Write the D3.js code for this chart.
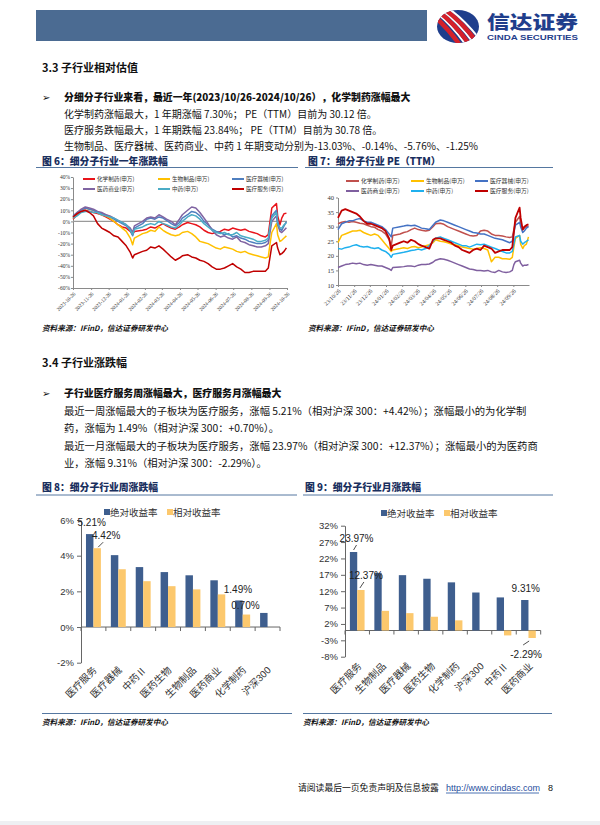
<!DOCTYPE html>
<html><head><meta charset="utf-8">
<script src="https://cdn.jsdelivr.net/npm/d3@7"></script>
<style>body{margin:0;background:#fff}svg{display:block}</style>
</head><body>
<svg id="page" width="600" height="825"></svg>
<script>
// ---------------- DATA ----------------
const dates = ['2023-10-26','2023-11-02','2023-11-09','2023-11-16','2023-11-23','2023-11-30','2023-12-07','2023-12-14','2023-12-21','2023-12-28',
 '2024-01-04','2024-01-11','2024-01-18','2024-01-25','2024-02-01','2024-02-05','2024-02-08','2024-02-22','2024-02-29','2024-03-07',
 '2024-03-14','2024-03-21','2024-03-28','2024-04-03','2024-04-11','2024-04-18','2024-04-25','2024-04-30','2024-05-09','2024-05-16',
 '2024-05-23','2024-05-30','2024-06-06','2024-06-13','2024-06-20','2024-06-27','2024-07-04','2024-07-11','2024-07-18','2024-07-25',
 '2024-08-01','2024-08-08','2024-08-15','2024-08-22','2024-08-29','2024-09-05','2024-09-12','2024-09-19','2024-09-24','2024-09-27',
 '2024-09-30','2024-10-08','2024-10-10','2024-10-14','2024-10-17','2024-10-21','2024-10-25'];

// Figure 6: one-year change (%)
const chg_chem   = [2,6,9,10,9,8,7,6,4,2,0,-3,-5,-6,-9,-12,-9,-8,-7,-5,-6,-4,-2,-4,-6,-7,-5,-3,-1,-2,-3,-5,-8,-10,-11,-10,-9,-7,-8,-6,-7,-8,-7,-9,-10,-11,-13,-14,-12,0,12,16,5,-3,3,7,7.3];
const chg_bio    = [3,7,10,12,11,10,8,6,5,3,0,-3,-6,-9,-15,-21,-15,-11,-10,-8,-9,-5,-8,-10,-12,-13,-12,-10,-9,-11,-14,-18,-19,-20,-22,-24,-25,-23,-24,-25,-27,-28,-27,-29,-30,-31,-32,-33,-32,-20,-10,-2,-12,-18,-17,-15,-13.03];
const chg_device = [5,8,10,12,11,10,8,7,6,4,2,0,-2,-4,-8,-13,-6,-2,2,3,2,4,3,1,-2,-4,-1,3,6,9,8,5,0,-3,-7,-9,-10,-12,-11,-14,-13,-15,-16,-18,-19,-20,-20,-19,-17,-5,5,10,0,-7,-8,-4,-0.14];
const chg_dist   = [4,8,11,13,12,11,9,8,6,5,3,1,-1,-3,-6,-10,-4,0,3,4,3,6,4,2,0,-3,2,6,10,13,12,8,3,-2,-8,-12,-14,-13,-15,-16,-14,-18,-19,-21,-22,-23,-23,-22,-20,-10,0,5,-3,-9,-10,-8,-5.76];
const chg_tcm    = [3,5,8,9,9,8,8,6,5,4,3,1,-1,-3,-8,-12,-7,-5,-3,-2,-3,0,-2,-3,-5,-6,-3,0,4,6,5,2,-2,-5,-8,-10,-11,-10,-12,-12,-10,-13,-14,-15,-16,-18,-18,-17,-15,-5,3,8,-2,-6,-6,-3,-1.25];
const chg_serv   = [4,7,9,10,8,5,-2,-6,-8,-10,-13,-14,-18,-22,-28,-33,-30,-27,-26,-23,-24,-22,-25,-28,-32,-35,-33,-31,-30,-32,-33,-35,-36,-38,-41,-43,-43,-42,-40,-38,-41,-43,-46,-46,-45,-45,-45,-45,-42,-32,-22,-19,-24,-30,-29,-27,-23.84];

// Figure 7: PE (TTM)
const pe_chem   = [31.0,31.5,31.8,31.5,31.8,31.5,31.2,31.0,30.5,30.0,29.8,29.0,28.5,27.5,25.5,23.5,27.0,27.5,28.0,28.3,29.0,29.5,29.0,28.8,28.5,28.8,30.0,31.0,31.2,30.8,30.0,29.5,29.0,28.5,28.0,27.5,27.0,26.8,27.0,28.5,28.8,28.5,27.5,27.0,27.0,26.8,26.5,26.3,26.5,29.0,31.5,33.5,31.0,29.0,29.5,30.0,30.12];
const pe_bio    = [24.5,27.0,27.5,28.0,28.5,28.5,28.8,28.0,27.5,27.0,27.5,27.0,25.5,24.0,22.5,21.5,22.0,22.5,22.8,22.5,23.0,23.2,22.8,23.0,23.5,23.8,24.5,25.5,25.0,24.8,24.5,24.0,23.8,23.5,23.0,22.8,22.5,22.3,22.5,22.8,22.5,22.0,18.0,19.5,19.5,19.0,19.0,18.8,19.5,23.0,26.0,27.0,24.0,22.5,23.5,24.0,26.5];
const pe_device = [29.0,31.0,31.5,32.0,32.0,32.5,32.8,32.0,31.5,31.5,31.0,30.5,30.0,29.0,27.5,26.5,29.5,30.0,30.2,30.5,30.3,30.5,30.0,29.5,29.3,29.0,30.5,31.5,32.3,32.0,31.5,31.0,30.5,30.0,29.5,29.0,28.5,28.0,27.8,27.5,27.5,27.0,26.5,26.0,25.8,25.5,25.0,24.5,25.0,28.0,30.5,31.5,30.0,28.0,28.5,29.5,30.0];
const pe_dist   = [16.0,16.5,17.0,17.2,17.5,17.3,17.5,17.0,16.8,17.0,16.8,16.5,16.5,16.0,15.5,15.0,16.0,16.2,16.3,16.5,16.5,16.3,16.8,17.0,17.0,17.2,17.8,18.5,19.0,18.8,18.5,18.0,17.5,17.0,16.5,16.0,15.5,15.3,15.0,15.0,14.8,15.0,14.5,14.3,15.0,14.5,14.3,14.5,15.0,17.0,18.0,18.5,17.5,16.5,16.8,16.8,17.0];
const pe_tcm    = [22.5,22.3,22.8,23.0,23.5,23.8,23.3,23.0,23.2,22.8,22.5,22.8,22.0,21.5,20.5,19.5,20.5,21.0,21.2,21.5,21.8,22.0,22.3,22.0,22.5,23.5,25.0,26.0,26.5,26.0,25.5,25.0,24.5,24.0,23.5,23.5,23.0,23.5,24.0,23.8,24.0,23.5,23.0,22.5,22.0,21.5,21.0,21.0,21.5,24.0,26.5,27.0,25.0,24.0,24.5,25.0,25.5];
const pe_serv   = [33.0,35.5,36.0,35.5,35.0,34.5,33.5,32.0,31.0,31.0,30.5,30.0,29.5,28.5,26.0,22.0,23.5,24.5,25.0,24.5,25.5,25.0,24.0,23.5,23.0,22.5,25.5,26.0,26.0,25.5,25.0,24.5,23.5,23.0,22.0,21.5,21.0,22.0,22.5,22.0,23.5,23.0,22.5,21.0,21.5,22.0,22.0,22.0,23.0,28.0,33.0,36.5,33.0,29.0,30.0,30.5,30.78];

const seriesNames = ['化学制药(申万)','生物制品(申万)','医疗器械(申万)','医药商业(申万)','中药(申万)','医疗服务(申万)'];

const c6XTicks = ['2023-10-26','2023-11-26','2023-12-26','2024-01-26','2024-02-26','2024-03-26','2024-04-26','2024-05-26','2024-06-26','2024-07-26','2024-08-26','2024-09-26','2024-10-26'];
const c6YTicks = [40,30,20,10,0,-10,-20,-30,-40,-50,-60];
const c7XTicks = ['2023-10-26','2023-11-26','2023-12-26','2024-01-26','2024-02-26','2024-03-26','2024-04-26','2024-05-26','2024-06-26','2024-07-26','2024-08-26','2024-09-26'];
const c7YTicks = [40,35,30,25,20,15,10];

// Figure 8: weekly
const weekCats = ['医疗服务','医疗器械','中药Ⅱ','医药生物','生物制品','医药商业','化学制药','沪深300'];
const weekAbs  = [5.21,4.03,3.36,3.08,2.90,2.62,1.49,0.79];
const weekRel  = [4.42,3.24,2.57,2.29,2.11,1.83,0.70,0];
const weekYTicks = [6,4,2,0,-2];
// Figure 9: monthly
const monthCats = ['医疗服务','生物制品','医疗器械','医药生物','化学制药','沪深300','中药Ⅱ','医药商业'];
const monthAbs  = [23.97,17.6,16.9,15.8,14.7,11.6,10.1,9.31];
const monthRel  = [12.37,6.0,5.3,4.2,3.1,0,-1.5,-2.29];
const monthYTicks = [32,27,22,17,12,7,2,-3,-8];

// ---------------- DRAW ----------------
const CJK = "'Noto Sans CJK SC', sans-serif";
const SERIF = "'Liberation Serif','Noto Sans CJK SC',serif";
const SANS = "'Liberation Sans','Noto Sans CJK SC',sans-serif";
const svg = d3.select('#page');
svg.append('rect').attr('width',600).attr('height',825).attr('fill','#fff');

function txt(x,y,s,o={}){
  const t = svg.append('text').attr('x',x).attr('y',y).text(s)
    .attr('font-family',o.ff||CJK).attr('font-size',o.fs||10.5)
    .attr('fill',o.fill||'#111');
  if(o.fw) t.attr('font-weight',o.fw);
  if(o.anchor) t.attr('text-anchor',o.anchor);
  if(o.italic) t.attr('font-style','italic');
  if(o.len) t.attr('textLength',o.len).attr('lengthAdjust','spacingAndGlyphs');
  return t;
}

// header bar
svg.append('rect').attr('x',36).attr('y',10).attr('width',391).attr('height',31).attr('fill','#4b6b92');
// logo
const defs = svg.append('defs');
defs.append('clipPath').attr('id','logoClip').append('ellipse').attr('cx',458).attr('cy',26.5).attr('rx',21).attr('ry',16.5);
const lg = svg.append('g').attr('clip-path','url(#logoClip)');
lg.append('rect').attr('x',430).attr('y',5).attr('width',60).attr('height',45).attr('fill','#1f3e8c');
[[-8,'#d4202a'],[-2,'#fff'],[2,'#d4202a'],[7,'#fff'],[11,'#d4202a'],[16,'#fff']].forEach(([o,c])=>{
  lg.append('path').attr('d',`M${432+o},${8} Q${452+o},${22} ${470+o},${48}`).attr('stroke',c).attr('stroke-width',c==='#fff'?2:4.5).attr('fill','none');
});
txt(487,29,'信达证券',{fs:18.5,fw:900,fill:'#1f3e8c',len:91});
txt(487,39.5,'CINDA SECURITIES',{fs:7.4,fw:700,fill:'#1f3e8c',ff:SANS,len:91});

// section 3.3
txt(42,72,'3.3 子行业相对估值',{fs:11,fw:700});
txt(42,101,'➢',{fs:10,ff:"'DejaVu Sans'"});
txt(64,101,'分细分子行业来看，最近一年(2023/10/26-2024/10/26），化学制药涨幅最大',{fs:9.9,fw:900});
txt(64,117.5,'化学制药涨幅最大，1 年期涨幅 7.30%；  PE（TTM）目前为 30.12 倍。',{fs:10});
txt(64,134,'医疗服务跌幅最大，1 年期跌幅 23.84%；  PE（TTM）目前为 30.78 倍。',{fs:10});
txt(64,150,'生物制品、医疗器械、医药商业、中药 1 年期变动分别为-13.03%、-0.14%、-5.76%、-1.25%',{fs:10});

// figure titles
const TITLE = '#1a2f5e';
txt(42,164.5,'图 6：细分子行业一年涨跌幅',{fs:9.8,fw:900,fill:TITLE});
txt(308,164.5,'图 7：细分子行业 PE（TTM）',{fs:9.8,fw:900,fill:TITLE});
svg.append('line').attr('x1',36).attr('x2',298).attr('y1',167.5).attr('y2',167.5).attr('stroke','#5577a0');
svg.append('line').attr('x1',305).attr('x2',553).attr('y1',167.5).attr('y2',167.5).attr('stroke','#5577a0');

const parse = d3.timeParse('%Y-%m-%d');
const D = dates.map(parse);

function styleAxis(g, fs, ff, col){
  g.select('.domain').attr('stroke',col||'#8a8a8a');
  g.selectAll('.tick line').attr('stroke',col||'#8a8a8a');
  g.selectAll('text').attr('font-size',fs).attr('font-family',ff).attr('fill','#333');
}
function rotLabels(g){
  g.selectAll('.tick text').attr('x',0).attr('y',0).attr('dy','0.35em').attr('text-anchor','end')
   .attr('transform','translate(1,5) rotate(-45)');
}

// ---- Figure 6 ----
{
  const x = d3.scaleTime().domain([parse('2023-10-26'),parse('2024-10-26')]).range([73,287]);
  const y = d3.scaleLinear().domain([-60,40]).range([288,177]);
  const ga = svg.append('g').attr('transform','translate(73,0)')
    .call(d3.axisLeft(y).tickValues(c6YTicks).tickFormat(d=>d+'%').tickSize(2).tickSizeOuter(0));
  styleAxis(ga,5.5,SERIF);
  ga.selectAll('text').attr('x',-3);
  const gx = svg.append('g').attr('transform','translate(0,288)')
    .call(d3.axisBottom(x).tickValues(c6XTicks.map(parse)).tickFormat(d3.timeFormat('%Y-%m-%d')).tickSize(2).tickSizeOuter(0));
  styleAxis(gx,5.2,SERIF); rotLabels(gx);
  svg.append('line').attr('x1',x.range()[0]).attr('x2',x.range()[1]).attr('y1',y(0)).attr('y2',y(0)).attr('stroke','#9a9a9a').attr('stroke-width',1.3);
  const colors = ['#e8141b','#ffc000','#4f7fbf','#8064a2','#4bacc6','#c00000'];
  const vals = [chg_chem,chg_bio,chg_device,chg_dist,chg_tcm,chg_serv];
  const line = d3.line().x((d,i)=>x(D[i])).y(d=>y(d));
  vals.forEach((v,k)=>svg.append('path').attr('d',line(v)).attr('fill','none').attr('stroke',colors[k]).attr('stroke-width',1.5).attr('stroke-linejoin','round'));
  const lx=[83,158,232], ly=[179,189];
  seriesNames.forEach((n,k)=>{
    const cx=lx[k%3], cy=ly[Math.floor(k/3)];
    svg.append('line').attr('x1',cx).attr('x2',cx+12).attr('y1',cy).attr('y2',cy).attr('stroke',colors[k]).attr('stroke-width',2);
    txt(cx+14,cy+2,n,{fs:5.6,fill:'#333'});
  });
}

// ---- Figure 7 ----
{
  const x = d3.scaleTime().domain([parse('2023-10-26'),parse('2024-10-26')]).range([338,529]);
  const y = d3.scaleLinear().domain([10,40]).range([285,197.5]);
  const ga = svg.append('g').attr('transform','translate(338,0)')
    .call(d3.axisLeft(y).tickValues(c7YTicks).tickSize(2).tickSizeOuter(0));
  styleAxis(ga,6.5,SERIF);
  ga.selectAll('text').attr('x',-4);
  const gx = svg.append('g').attr('transform','translate(0,285)')
    .call(d3.axisBottom(x).tickValues(c7XTicks.map(parse)).tickFormat(d3.timeFormat('%y/%m/%d')).tickSize(2).tickSizeOuter(0));
  styleAxis(gx,5.8,SERIF); rotLabels(gx);
  const colors = ['#c0504d','#ffc000','#4472c4','#7f5f9f','#1fb0ee','#c00000'];
  const vals = [pe_chem,pe_bio,pe_device,pe_dist,pe_tcm,pe_serv];
  const line = d3.line().x((d,i)=>x(D[i])).y(d=>y(d));
  vals.forEach((v,k)=>svg.append('path').attr('d',line(v)).attr('fill','none').attr('stroke',colors[k]).attr('stroke-width',k===5?1.8:1.5).attr('stroke-linejoin','round'));
  const lx=[346,411,475], ly=[181,191];
  seriesNames.forEach((n,k)=>{
    const cx=lx[k%3], cy=ly[Math.floor(k/3)];
    svg.append('line').attr('x1',cx).attr('x2',cx+13).attr('y1',cy).attr('y2',cy).attr('stroke',colors[k]).attr('stroke-width',2);
    txt(cx+15,cy+2,n,{fs:5.8,fill:'#333'});
  });
}

txt(42,331,'资料来源：IFinD，信达证券研发中心',{fs:7.6,italic:true,fw:700});
txt(308,331,'资料来源：IFinD，信达证券研发中心',{fs:7.6,italic:true,fw:700});

// section 3.4
txt(42,367,'3.4 子行业涨跌幅',{fs:11,fw:700});
txt(42,397,'➢',{fs:10,ff:"'DejaVu Sans'"});
txt(64,397,'子行业医疗服务周涨幅最大，医疗服务月涨幅最大',{fs:9.9,fw:900});
txt(64,415,'最近一周涨幅最大的子板块为医疗服务，涨幅 5.21%（相对沪深 300：+4.42%）；涨幅最小的为化学制',{fs:10.3});
txt(64,432,'药，涨幅为 1.49%（相对沪深 300：+0.70%）。',{fs:10.3});
txt(64,450,'最近一月涨幅最大的子板块为医疗服务，涨幅 23.97%（相对沪深 300：+12.37%）；涨幅最小的为医药商',{fs:10.3});
txt(64,467,'业，涨幅 9.31%（相对沪深 300：-2.29%）。',{fs:10.3});

txt(42,491,'图 8：细分子行业周涨跌幅',{fs:9.8,fw:900,fill:TITLE});
txt(305,491,'图 9：细分子行业月涨跌幅',{fs:9.8,fw:900,fill:TITLE});
svg.append('line').attr('x1',36).attr('x2',297).attr('y1',495).attr('y2',495).attr('stroke','#5577a0');
svg.append('line').attr('x1',303).attr('x2',553).attr('y1',495).attr('y2',495).attr('stroke','#5577a0');

const BLUE='#3e5e8e', YEL='#fcc86d';
function barChart(cats, abs, rel, yt, x0, x1, yTop, yBot, legX, legY, labOff, labels){
  const x = d3.scaleBand().domain(cats).range([x0,x1]).paddingInner(0).paddingOuter(0);
  const y = d3.scaleLinear().domain([d3.min(yt),d3.max(yt)]).range([yBot,yTop]);
  const ga = svg.append('g').attr('transform',`translate(${x0},0)`)
    .call(d3.axisLeft(y).tickValues(yt).tickFormat(d=>d+'%').tickSize(4).tickSizeOuter(0));
  styleAxis(ga,9.5,SANS,'#666');
  ga.selectAll('text').attr('x',-7);
  const bw = x.bandwidth()*0.3;
  svg.append('line').attr('x1',x0).attr('x2',x1).attr('y1',y(0)).attr('y2',y(0)).attr('stroke','#666');
  d3.range(cats.length+1).forEach(i=>{
    const xx = x0 + i*x.step();
    svg.append('line').attr('x1',xx).attr('x2',xx).attr('y1',y(0)).attr('y2',y(0)+4).attr('stroke','#666');
  });
  cats.forEach((c,i)=>{
    const bx = x(c)+x.bandwidth()*0.2;
    svg.append('rect').attr('x',bx).attr('width',bw).attr('y',y(Math.max(0,abs[i]))).attr('height',Math.abs(y(abs[i])-y(0))).attr('fill',BLUE);
    if(rel[i]!==0) svg.append('rect').attr('x',bx+bw).attr('width',bw).attr('y',y(Math.max(0,rel[i]))).attr('height',Math.abs(y(rel[i])-y(0))).attr('fill',YEL);
    const cx = x(c)+x.bandwidth()/2;
    svg.append('text').attr('transform',`translate(${cx+labOff[0]},${y(d3.min(yt))+labOff[1]}) rotate(-45)`)
      .attr('text-anchor','end').attr('font-size',9.8).attr('font-family',SANS).attr('fill','#333').text(c);
  });
  svg.append('rect').attr('x',legX).attr('y',legY-3).attr('width',6).attr('height',6).attr('fill',BLUE);
  txt(legX+6,legY+3.5,'绝对收益率',{fs:9.5,fill:'#333'});
  svg.append('rect').attr('x',legX+63).attr('y',legY-3).attr('width',6).attr('height',6).attr('fill',YEL);
  txt(legX+69,legY+3.5,'相对收益率',{fs:9.5,fill:'#333'});
  labels.forEach(l=>{
    const i = cats.indexOf(l.cat);
    const bx = x(l.cat)+x.bandwidth()*0.2 + (l.s==='rel'?bw:0) + bw/2;
    const v = l.s==='rel'?rel[i]:abs[i];
    const tx = bx + l.dx, ty = y(v) + l.dy;
    svg.append('text').attr('x',tx).attr('y',ty).attr('text-anchor','middle').attr('font-size',10).attr('font-family',SANS).attr('fill','#222')
      .text(v.toFixed(2)+'%');
    if(l.lead) svg.append('line').attr('x1',tx+l.lead[0]).attr('y1',ty+l.lead[1]).attr('x2',bx+l.lead[2]).attr('y2',y(v)+l.lead[3]).attr('stroke','#222').attr('stroke-width',0.8);
  });
}

barChart(weekCats, weekAbs, weekRel, weekYTicks, 81, 280, 520, 662.7, 104, 512, [4,8], [
  {cat:'医疗服务', s:'abs', dx:2, dy:-8},
  {cat:'医疗服务', s:'rel', dx:9, dy:-9, lead:[-3,3,1,-1]},
  {cat:'化学制药', s:'abs', dx:-1, dy:-7},
  {cat:'化学制药', s:'rel', dx:-1, dy:-6}
]);
barChart(monthCats, monthAbs, monthRel, monthYTicks, 345, 540.7, 525.7, 656.7, 381, 513, [5,10], [
  {cat:'医疗服务', s:'abs', dx:3, dy:-10, lead:[0,3,0,-2]},
  {cat:'医疗服务', s:'rel', dx:5, dy:-11, lead:[-2,3,-1,-2]},
  {cat:'医药商业', s:'abs', dx:1, dy:-8},
  {cat:'医药商业', s:'rel', dx:-6, dy:20, lead:[-3,-13,-3,3]}
]);

svg.append('line').attr('x1',42).attr('x2',292).attr('y1',713.5).attr('y2',713.5).attr('stroke','#5577a0');
svg.append('line').attr('x1',303).attr('x2',552).attr('y1',713.5).attr('y2',713.5).attr('stroke','#5577a0');
txt(42,725,'资料来源：IFinD，信达证券研发中心',{fs:7.6,italic:true,fw:700});
txt(303,725,'资料来源：IFinD，信达证券研发中心',{fs:7.6,italic:true,fw:700});

// footer
txt(298,791,'请阅读最后一页免责声明及信息披露',{fs:8.8});
txt(446,791,'http://www.cindasc.com',{fs:9,ff:SANS,fill:'#1f4e9e'});
svg.append('line').attr('x1',446).attr('x2',539).attr('y1',793).attr('y2',793).attr('stroke','#1f4e9e').attr('stroke-width',0.8);
txt(548,791,'8',{fs:9,ff:SANS,fill:'#111'});
svg.append('rect').attr('x',0).attr('y',821).attr('width',600).attr('height',4).attr('fill','#eef0f3');
</script>
</body></html>
